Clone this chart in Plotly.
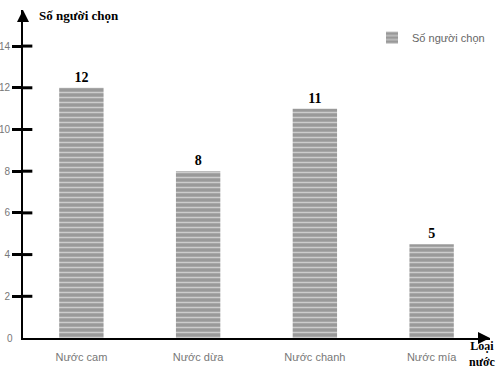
import plotly.graph_objects as go

categories = ["Nước cam", "Nước dừa", "Nước chanh", "Nước mía"]
values = [12, 8, 11, 4.5]
value_labels = ["12", "8", "11", "5"]
y_ticks = [0, 2, 4, 6, 8, 10, 12, 14]
series_name = "Số người chọn"
y_title = "<b>Số người chọn</b>"
x_title = "<b>Loại<br>nước</b>"

fig = go.Figure()
fig.add_trace(go.Bar(
    x=categories, y=values, name=series_name,
    width=0.38,
    marker=dict(color="#999999", line=dict(width=0),
                pattern=dict(shape="-", fgcolor="white", bgcolor="#999999",
                             size=5, solidity=0.3, fillmode="overlay")),
    text=value_labels, texttemplate="<b>%{text}</b>", textposition="outside", cliponaxis=False,
    outsidetextfont=dict(family="Liberation Serif", size=14, color="black"),
))

# tick marks crossing the axis (inner part)
for t in y_ticks[1:]:
    fig.add_shape(type="line", xref="paper", yref="y", x0=0, x1=0.02, y0=t, y1=t,
                  line=dict(color="black", width=3))

# arrowheads at the ends of the axes
fig.add_annotation(xref="x domain", yref="y domain", x=0, y=1, ax=0, ay=12,
                   showarrow=True, arrowhead=2, arrowsize=1.2,
                   arrowwidth=2, arrowcolor="black", text="")
fig.add_annotation(xref="x domain", yref="y domain", x=1, y=0, ax=-12, ay=0,
                   showarrow=True, arrowhead=2, arrowsize=1.2,
                   arrowwidth=2, arrowcolor="black", text="")
fig.add_annotation(xref="paper", yref="paper", x=0.03, y=1.0, xanchor="left", yanchor="top",
                   yshift=4, text=y_title, showarrow=False,
                   font=dict(family="Liberation Serif", size=13, color="black"))
fig.add_annotation(xref="paper", yref="paper", x=1.0, y=0, xanchor="right", yanchor="top",
                   xshift=8, yshift=1, text=x_title, showarrow=False, align="center",
                   font=dict(family="Liberation Serif", size=12, color="black"))

fig.update_layout(
    width=500, height=369,
    margin=dict(l=23, r=10, t=10, b=31),
    plot_bgcolor="white", paper_bgcolor="white",
    showlegend=True,
    legend=dict(x=1.0, y=0.96, xanchor="right", yanchor="top",
                font=dict(family="Liberation Sans", size=11, color="#666"),
                bgcolor="rgba(0,0,0,0)", itemwidth=30),
    xaxis=dict(range=[-0.5, 3.5], showline=True, linecolor="black", linewidth=2,
               showgrid=False, ticks="", zeroline=False,
               automargin=False, ticklabelstandoff=8,
               tickfont=dict(family="Liberation Sans", size=11, color="#777")),
    yaxis=dict(range=[0, 15.73], showline=True, linecolor="black", linewidth=2,
               showgrid=False, zeroline=False,
               automargin=False,
               tickvals=y_ticks[1:], ticks="outside", ticklen=9, tickwidth=3,
               tickcolor="black",
               tickfont=dict(family="Liberation Sans", size=10, color="#777")),
)
fig.add_annotation(xref="paper", yref="y", x=0, y=0, xanchor="right", xshift=-8,
                   text="0", showarrow=False,
                   font=dict(family="Liberation Sans", size=10, color="#777"))
fig.write_html("out.html")
